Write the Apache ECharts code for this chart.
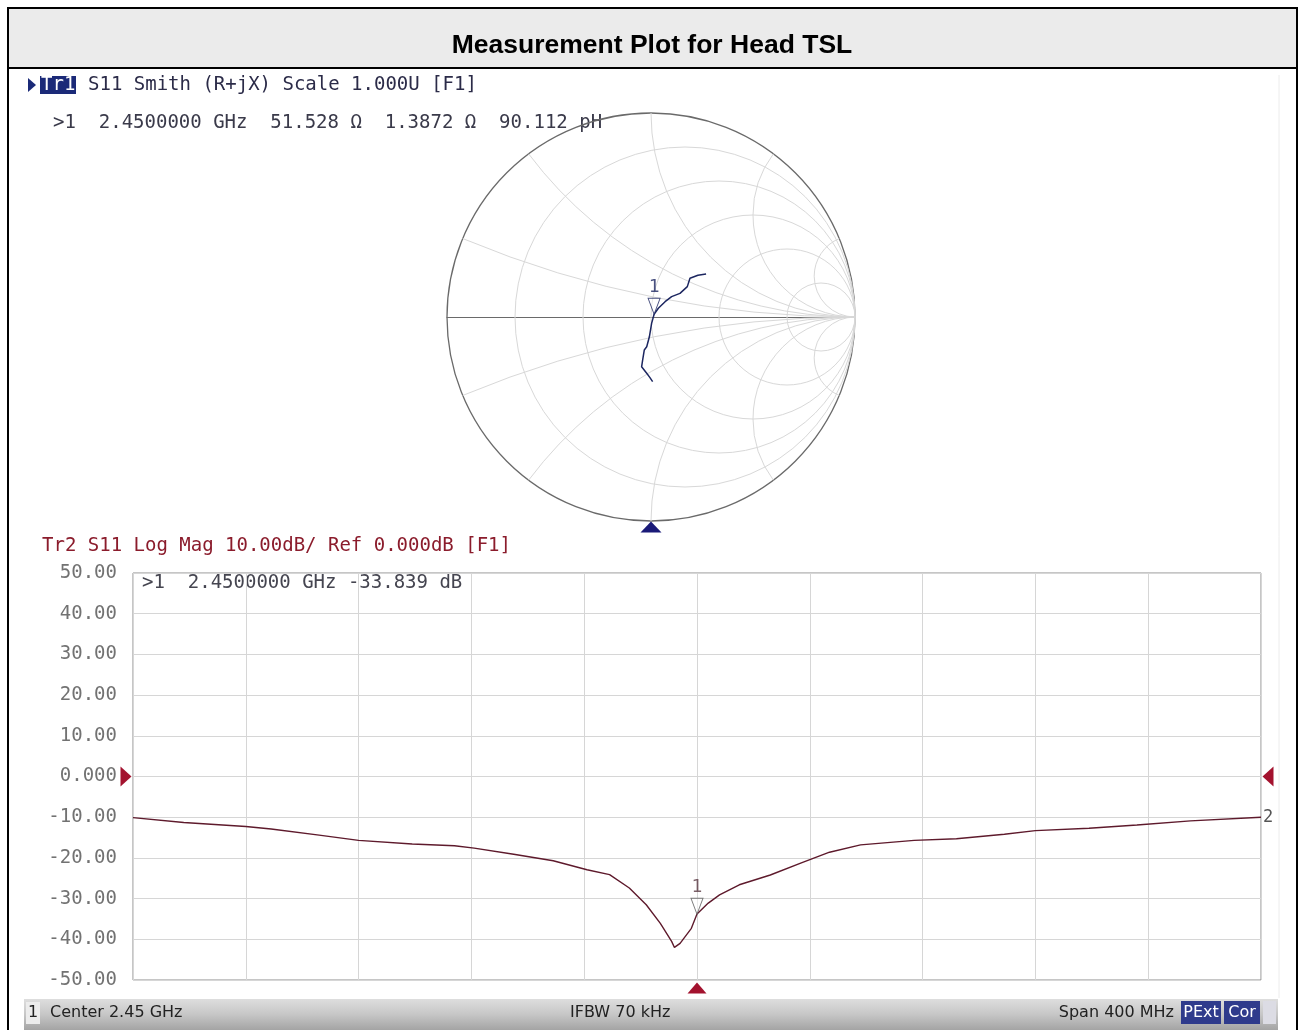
<!DOCTYPE html>
<html>
<head>
<meta charset="utf-8">
<title>Measurement Plot for Head TSL</title>
<script src="https://cdn.jsdelivr.net/npm/echarts@6/dist/echarts.min.js"></script>
<style>
    html, body { margin: 0; padding: 0; background: #fff; }
    #main { width: 1299px; height: 1030px; }
</style>
</head>
<body>
<div id="main"></div>
<script>
// Tr2: S11 Log Mag, 频率 (MHz) / 幅度 (dB)
var centerMHz = 2450;
var freqMHz = [2250, 2268, 2290, 2299, 2316, 2330, 2349, 2364, 2371, 2385,
    2399, 2411, 2419, 2426, 2432, 2437, 2441, 2442, 2444, 2448,
    2450, 2454, 2458, 2465, 2476, 2487, 2497, 2508, 2527, 2542,
    2559, 2570, 2589, 2606, 2625, 2650];
var s11dB = [-10.1, -11.3, -12.3, -12.9, -14.4, -15.7, -16.6, -17.0, -17.6, -19.1,
    -20.7, -22.9, -24.1, -27.4, -31.5, -36.1, -40.5, -42.0, -41.0, -37.3,
    -33.8, -31.1, -29.1, -26.6, -24.2, -21.2, -18.6, -16.8, -15.7, -15.3,
    -14.2, -13.3, -12.7, -11.9, -10.9, -10.0];
var markerFreqMHz = 2450;
var markerDb = -33.839;

// Tr1: Smith 圆图轨迹 (反射系数 实部 / 虚部)
var gammaRe = [0.008, -0.006, -0.021, -0.046, -0.041, -0.033, -0.021, -0.008, 0.003, 0.0152,
    0.036, 0.069, 0.101, 0.142, 0.178, 0.191, 0.230, 0.270];
var gammaIm = [-0.317, -0.296, -0.276, -0.244, -0.211, -0.162, -0.146, -0.097, -0.031, 0.0135,
    0.043, 0.075, 0.100, 0.116, 0.149, 0.190, 0.205, 0.211];
var markerIndex = 9;

// Smith 网格: 等电阻圆, 等电抗弧
var smithR = [0, 0.2, 0.5, 1, 2, 5];
var smithX = [0.2, 0.5, 1, 2, 5, -0.2, -0.5, -1, -2, -5];

var mono = '"DejaVu Sans Mono", monospace';
var sans = '"DejaVu Sans", sans-serif';

var chart = echarts.init(document.getElementById('main'));

// 等电阻圆
function renderResistance(params, api) {
    var r = api.value(0);
    var c = api.coord([r / (1 + r), 0]);
    var rad = api.size([1 / (1 + r), 0])[0];
    return {
        type: 'circle',
        shape: { cx: c[0], cy: c[1], r: rad },
        style: { fill: 'none', stroke: r === 0 ? '#6a6a6a' : '#d8d8d8', lineWidth: r === 0 ? 1.3 : 1 }
    };
}

// 等电抗弧 (只画单位圆内部分)
function renderReactance(params, api) {
    var x = api.value(0);
    var c = api.coord([1, 1 / x]);
    var rad = api.size([1 / Math.abs(x), 0])[0];
    var px = (x * x - 1) / (x * x + 1);
    var py = 2 * x / (x * x + 1);
    var a1 = Math.atan2(-1 / x, 0);
    var a2 = Math.atan2(py - 1 / x, px - 1);
    return {
        type: 'arc',
        shape: { cx: c[0], cy: c[1], r: rad, startAngle: -a1, endAngle: -a2, clockwise: x > 0 },
        style: { fill: 'none', stroke: '#d8d8d8', lineWidth: 1 }
    };
}

function txt(x, y, text, font, color, align) {
    return {
        type: 'text', x: x, y: y, silent: true,
        style: {
            text: text, font: font, fill: color,
            textAlign: align || 'left', align: align || 'left',
            textVerticalAlign: 'middle', verticalAlign: 'middle'
        }
    };
}

function box(x, y, w, h, color) {
    return { type: 'rect', silent: true, shape: { x: x, y: y, width: w, height: h }, style: { fill: color } };
}

var markerSymbol = 'path://M0,0 L12,0 L6,14 Z';

var option = {
    animation: false,
    backgroundColor: '#ffffff',
    grid: [
        { left: 447, top: 113, width: 408, height: 408, show: false },
        { left: 133, top: 573, width: 1128, height: 407, show: true, borderColor: '#8c8c8c', borderWidth: 1 }
    ],
    xAxis: [
        {
            gridIndex: 0, type: 'value', min: -1, max: 1,
            axisLine: { show: true, onZero: true, lineStyle: { color: '#6a6a6a', width: 1.2 } },
            axisTick: { show: false }, axisLabel: { show: false }, splitLine: { show: false }
        },
        {
            gridIndex: 1, type: 'value', min: -200, max: 200, interval: 40,
            axisLine: { show: false }, axisTick: { show: false }, axisLabel: { show: false },
            splitLine: { lineStyle: { color: '#d6d6d6', width: 1 } }
        }
    ],
    yAxis: [
        { gridIndex: 0, type: 'value', min: -1, max: 1, show: false },
        {
            gridIndex: 1, type: 'value', min: -50, max: 50, interval: 10,
            axisLine: { show: false }, axisTick: { show: false },
            axisLabel: {
                margin: 16, color: '#727272', fontFamily: mono, fontSize: 19,
                formatter: function (v) { return v === 0 ? '0.000' : v.toFixed(2); }
            },
            splitLine: { lineStyle: { color: '#d6d6d6', width: 1 } }
        }
    ],
    series: [
        {
            type: 'custom', xAxisIndex: 0, yAxisIndex: 0, silent: true, z: 1,
            renderItem: renderResistance,
            data: smithR.map(function (r) { return [r, 0]; })
        },
        {
            type: 'custom', xAxisIndex: 0, yAxisIndex: 0, silent: true, z: 1,
            renderItem: renderReactance,
            data: smithX.map(function (x) { return [x, 0]; })
        },
        {
            // Smith 轨迹
            type: 'line', xAxisIndex: 0, yAxisIndex: 0, silent: true, z: 3,
            symbol: 'none', clip: false,
            lineStyle: { color: '#1c2660', width: 1.5 },
            data: gammaRe.map(function (re, i) { return [re, gammaIm[i]]; }),
            markPoint: {
                silent: true, label: { show: false },
                data: [{ coord: [0, -1], symbol: 'triangle', symbolSize: [21, 11], symbolOffset: [0, 6], itemStyle: { color: '#1a1a78' } }]
            }
        },
        {
            // Smith 标记 1
            type: 'scatter', xAxisIndex: 0, yAxisIndex: 0, silent: true, z: 4,
            symbol: markerSymbol, symbolSize: [12, 16], symbolOffset: [0, '-50%'],
            itemStyle: { color: 'rgba(255,255,255,0.6)', borderColor: '#1c2660', borderWidth: 1 },
            label: { show: true, position: 'top', distance: 1, formatter: '1', color: '#1c2660', fontFamily: mono, fontSize: 18 },
            data: [[gammaRe[markerIndex], gammaIm[markerIndex]]]
        },
        {
            // Log Mag 轨迹
            type: 'line', xAxisIndex: 1, yAxisIndex: 1, silent: true, z: 3,
            symbol: 'none',
            lineStyle: { color: '#5e1a2c', width: 1.4 },
            data: freqMHz.map(function (f, i) { return [f - centerMHz, s11dB[i]]; }),
            endLabel: { show: true, formatter: '2', color: '#555', fontFamily: mono, fontSize: 17, distance: 2 },
            markPoint: {
                silent: true, label: { show: false },
                itemStyle: { color: '#a3122e' },
                data: [
                    { coord: [-200, 0], symbol: 'path://M0,0 L10,9 L0,18 Z', symbolSize: [11, 20], symbolOffset: [-7, 0] },
                    { coord: [200, 0], symbol: 'path://M10,0 L0,9 L10,18 Z', symbolSize: [11, 20], symbolOffset: [7, 0] },
                    { coord: [markerFreqMHz - centerMHz, -50], symbol: 'triangle', symbolSize: [19, 11], symbolOffset: [0, 8] }
                ]
            }
        },
        {
            // Log Mag 标记 1
            type: 'scatter', xAxisIndex: 1, yAxisIndex: 1, silent: true, z: 4,
            symbol: markerSymbol, symbolSize: [12, 16], symbolOffset: [0, '-50%'],
            itemStyle: { color: 'rgba(255,255,255,0.6)', borderColor: '#5a5a5a', borderWidth: 1 },
            label: { show: true, position: 'top', distance: 1, formatter: '1', color: '#5a3a44', fontFamily: mono, fontSize: 18 },
            data: [[markerFreqMHz - centerMHz, markerDb]]
        }
    ],
    graphic: [
        // 外框和标题栏
        { type: 'rect', silent: true, z: -1, shape: { x: 8, y: 8, width: 1289, height: 60 }, style: { fill: '#ebebeb', stroke: '#000', lineWidth: 2 } },
        { type: 'line', silent: true, shape: { x1: 8, y1: 8, x2: 8, y2: 1030 }, style: { stroke: '#000', lineWidth: 2 } },
        { type: 'line', silent: true, shape: { x1: 1297, y1: 8, x2: 1297, y2: 1030 }, style: { stroke: '#000', lineWidth: 2 } },
        { type: 'line', silent: true, shape: { x1: 1279, y1: 75, x2: 1279, y2: 998 }, style: { stroke: '#ececec', lineWidth: 1 } },
        txt(652, 46, 'Measurement Plot for Head TSL', 'bold 26.5px "Liberation Sans", Arial, sans-serif', '#000', 'center'),

        // Tr1 表头
        { type: 'polygon', silent: true, shape: { points: [[28, 78], [36, 85], [28, 92]] }, style: { fill: '#1b2a78' } },
        box(40, 76, 36, 18, '#1b2a78'),
        txt(41, 85, 'Tr1', '19px ' + mono, '#ffffff'),
        txt(88, 85, 'S11 Smith (R+jX) Scale 1.000U [F1]', '19px ' + mono, '#2b2b48'),
        txt(53, 123, '>1  2.4500000 GHz  51.528 \u03a9  1.3872 \u03a9  90.112 pH', '19px ' + mono, '#3a3a4a'),

        // Tr2 表头
        txt(42, 546, 'Tr2 S11 Log Mag 10.00dB/ Ref 0.000dB [F1]', '19px ' + mono, '#8b1c2c'),
        txt(142, 583, '>1  2.4500000 GHz -33.839 dB', '19px ' + mono, '#454550'),

        // 状态栏
        {
            type: 'rect', silent: true, shape: { x: 24, y: 999, width: 1254, height: 31 },
            style: {
                fill: new echarts.graphic.LinearGradient(0, 0, 0, 1, [
                    { offset: 0, color: '#dedede' }, { offset: 0.5, color: '#c6c6c6' }, { offset: 1, color: '#a4a4a4' }
                ])
            }
        },
        box(26, 1002, 14, 22, '#ececec'),
        txt(33, 1013, '1', '16px ' + sans, '#222', 'center'),
        txt(50, 1013, 'Center 2.45 GHz', '16px ' + sans, '#222'),
        txt(570, 1013, 'IFBW 70 kHz', '16px ' + sans, '#222'),
        txt(1174, 1013, 'Span 400 MHz', '16px ' + sans, '#222', 'right'),
        box(1181, 1001, 40, 23, '#2f3b8c'),
        txt(1201, 1013, 'PExt', '16px ' + sans, '#fff', 'center'),
        box(1224, 1001, 36, 23, '#2f3b8c'),
        txt(1242, 1013, 'Cor', '16px ' + sans, '#fff', 'center'),
        box(1263, 1001, 13, 23, '#dcdce4')
    ]
};

chart.setOption(option);
</script>
</body>
</html>
